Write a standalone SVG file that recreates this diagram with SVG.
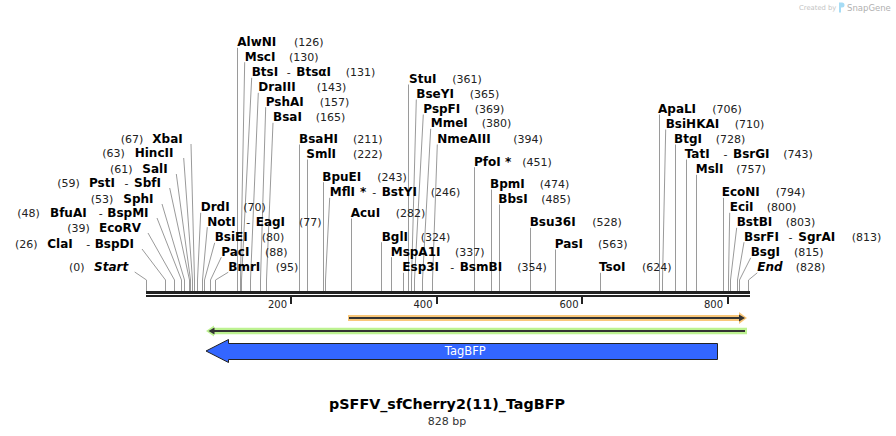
<svg xmlns="http://www.w3.org/2000/svg" width="896" height="436" viewBox="0 0 896 436">
<style>
.n{font-family:"DejaVu Sans",Verdana,sans-serif;font-size:12px;font-weight:bold;fill:#000}
.i{font-style:italic}
.p{font-family:"DejaVu Sans",Verdana,sans-serif;font-size:11px;fill:#222}
.t{font-family:"DejaVu Sans",Verdana,sans-serif;font-size:10px;fill:#222}
.c{fill:none;stroke:#9a9a9a;stroke-width:1}
.bb{fill:#222}
.fl{fill:none;stroke:#333;stroke-width:2}
</style>
<rect width="896" height="436" fill="#fff"/>
<g id="watermark">
<text x="799" y="10" style="font-family:'DejaVu Sans',sans-serif;font-size:6.8px;fill:#c4c4c4">Created by</text>
<path d="M839,2.5 h3 a2.5,2.5 0 0 1 0,5 h-1 v5 h-2 Z" fill="#a6dcf5"/>
<text x="847" y="10.5" style="font-family:'DejaVu Sans',sans-serif;font-size:8.5px;fill:#b0b0b0">SnapGene</text>
</g>
<g id="connectors">
<polyline class="c" points="134.7,272 146.5,280 146.5,291"/>
<polyline class="c" points="142,249 165.5,280 165.5,291"/>
<polyline class="c" points="148,233 174.5,280 174.5,291"/>
<polyline class="c" points="157,218 181.5,280 181.5,291"/>
<polyline class="c" points="162,204 184.5,280 184.5,291"/>
<polyline class="c" points="169.7,188 189.5,280 189.5,291"/>
<polyline class="c" points="176.3,174 190.5,280 190.5,291"/>
<polyline class="c" points="183.7,158 192.5,280 192.5,291"/>
<polyline class="c" points="191,144 194.5,280 194.5,291"/>
<polyline class="c" points="200.7,212.8 197.5,280 197.5,291"/>
<polyline class="c" points="207.3,227.2 202.5,280 202.5,291"/>
<polyline class="c" points="214.7,242.8 204.5,280 204.5,291"/>
<polyline class="c" points="221.3,257.2 210.5,280 210.5,291"/>
<polyline class="c" points="228.3,272.2 215.5,280 215.5,291"/>
<polyline class="c" points="237.5,47.8 237.5,291"/>
<polyline class="c" points="244.7,62.2 240.5,280 240.5,291"/>
<polyline class="c" points="251.7,77.8 241.5,280 241.5,291"/>
<polyline class="c" points="258.3,92.8 250.5,280 250.5,291"/>
<polyline class="c" points="265.7,107.2 260.5,280 260.5,291"/>
<polyline class="c" points="273,122.8 266.5,280 266.5,291"/>
<polyline class="c" points="299.5,144.5 299.5,291"/>
<polyline class="c" points="307.5,159.5 307.5,291"/>
<polyline class="c" points="323.5,182.2 323.5,291"/>
<polyline class="c" points="329.7,197.8 325.5,280 325.5,291"/>
<polyline class="c" points="351.5,218.5 351.5,291"/>
<polyline class="c" points="381.5,242.2 381.5,291"/>
<polyline class="c" points="391.5,257.2 391.5,291"/>
<polyline class="c" points="403.5,272.8 403.5,291"/>
<polyline class="c" points="408.5,84.5 408.5,291"/>
<polyline class="c" points="416.3,99.5 411.5,280 411.5,291"/>
<polyline class="c" points="423.3,114.5 414.5,280 414.5,291"/>
<polyline class="c" points="430.7,128.8 422.5,280 422.5,291"/>
<polyline class="c" points="437.3,144.5 432.5,280 432.5,291"/>
<polyline class="c" points="474.5,167.2 474.5,291"/>
<polyline class="c" points="491.5,189.5 491.5,291"/>
<polyline class="c" points="499.5,204.5 499.5,291"/>
<polyline class="c" points="530.5,227.8 530.5,291"/>
<polyline class="c" points="555.5,249.5 555.5,291"/>
<polyline class="c" points="600.5,272.8 600.5,291"/>
<polyline class="c" points="659.5,114.5 659.5,291"/>
<polyline class="c" points="665.7,129.5 662.5,280 662.5,291"/>
<polyline class="c" points="675.5,144.5 675.5,291"/>
<polyline class="c" points="686.5,159.5 686.5,291"/>
<polyline class="c" points="696.5,174.8 696.5,291"/>
<polyline class="c" points="723.5,197.8 723.5,291"/>
<polyline class="c" points="729.7,212.8 728.5,280 728.5,291"/>
<polyline class="c" points="736.7,227.8 730.5,280 730.5,291"/>
<polyline class="c" points="744,242.2 737.5,280 737.5,291"/>
<polyline class="c" points="750.7,257.8 739.5,280 739.5,291"/>
<polyline class="c" points="757.3,272.8 748.5,280 748.5,291"/>
</g>
<g id="backbone">
<rect class="bb" x="146" y="291" width="604" height="3"/>
<rect class="bb" x="146" y="295" width="604" height="2"/>
<rect class="bb" x="290" y="297" width="2" height="7"/>
<rect class="bb" x="436" y="297" width="2" height="7"/>
<rect class="bb" x="581" y="297" width="2" height="7"/>
<rect class="bb" x="727" y="297" width="2" height="7"/>
<text class="t" x="287" y="307.5" text-anchor="end">200</text>
<text class="t" x="432.5" y="307.5" text-anchor="end">400</text>
<text class="t" x="578.5" y="307.5" text-anchor="end">600</text>
<text class="t" x="723" y="307.5" text-anchor="end">800</text>
</g>
<g id="site-Start"><text class="p" x="69" y="271">(0)</text><text class="n i" x="94" y="271">Start</text></g>
<g id="site-ClaI"><text class="p" x="15" y="248">(26)</text><text class="n" x="47.3" y="248">ClaI</text><text class="p" x="86.2" y="248">-</text><text class="n" x="94.7" y="248">BspDI</text></g>
<g id="site-EcoRV"><text class="p" x="67.3" y="232">(39)</text><text class="n" x="99" y="232">EcoRV</text></g>
<g id="site-BfuAI"><text class="p" x="17.3" y="217">(48)</text><text class="n" x="50" y="217">BfuAI</text><text class="p" x="98.8" y="217">-</text><text class="n" x="107.3" y="217">BspMI</text></g>
<g id="site-SphI"><text class="p" x="90.7" y="203">(53)</text><text class="n" x="123.3" y="203">SphI</text></g>
<g id="site-PstI"><text class="p" x="57.3" y="187">(59)</text><text class="n" x="89" y="187">PstI</text><text class="p" x="124.5" y="187">-</text><text class="n" x="134" y="187">SbfI</text></g>
<g id="site-SalI"><text class="p" x="110" y="173">(61)</text><text class="n" x="142.3" y="173">SalI</text></g>
<g id="site-HincII"><text class="p" x="102.3" y="157">(63)</text><text class="n" x="134.7" y="157">HincII</text></g>
<g id="site-XbaI"><text class="p" x="120.7" y="143">(67)</text><text class="n" x="152.3" y="143">XbaI</text></g>
<g id="site-DrdI"><text class="n" x="200.7" y="211.3">DrdI</text><text class="p" x="243.3" y="211.3">(70)</text></g>
<g id="site-NotI"><text class="n" x="207.3" y="225.7">NotI</text><text class="p" x="246.2" y="225.7">-</text><text class="n" x="255.7" y="225.7">EagI</text><text class="p" x="299" y="225.7">(77)</text></g>
<g id="site-BsiEI"><text class="n" x="214.7" y="241.3">BsiEI</text><text class="p" x="261.7" y="241.3">(80)</text></g>
<g id="site-PacI"><text class="n" x="221.3" y="255.7">PacI</text><text class="p" x="265" y="255.7">(88)</text></g>
<g id="site-BmrI"><text class="n" x="228.3" y="270.7">BmrI</text><text class="p" x="275.7" y="270.7">(95)</text></g>
<g id="site-AlwNI"><text class="n" x="237.3" y="46.3">AlwNI</text><text class="p" x="294" y="46.3">(126)</text></g>
<g id="site-MscI"><text class="n" x="244.7" y="60.7">MscI</text><text class="p" x="289" y="60.7">(130)</text></g>
<g id="site-BtsI"><text class="n" x="251.7" y="76.3">BtsI</text><text class="p" x="286.8" y="76.3">-</text><text class="n" x="296.3" y="76.3">BtsαI</text><text class="p" x="345.7" y="76.3">(131)</text></g>
<g id="site-DraIII"><text class="n" x="258.3" y="91.3">DraIII</text><text class="p" x="316.7" y="91.3">(143)</text></g>
<g id="site-PshAI"><text class="n" x="265.7" y="105.7">PshAI</text><text class="p" x="319.7" y="105.7">(157)</text></g>
<g id="site-BsaI"><text class="n" x="273" y="121.3">BsaI</text><text class="p" x="315.7" y="121.3">(165)</text></g>
<g id="site-BsaHI"><text class="n" x="299" y="143">BsaHI</text><text class="p" x="353" y="143">(211)</text></g>
<g id="site-SmlI"><text class="n" x="306.3" y="158">SmlI</text><text class="p" x="353" y="158">(222)</text></g>
<g id="site-BpuEI"><text class="n" x="322.3" y="180.7">BpuEI</text><text class="p" x="377.3" y="180.7">(243)</text></g>
<g id="site-MflI"><text class="n" x="329.7" y="196.3">MflI</text><text class="n" x="360" y="196.3">*</text><text class="p" x="372.2" y="196.3">-</text><text class="n" x="381.7" y="196.3">BstYI</text><text class="p" x="430.7" y="196.3">(246)</text></g>
<g id="site-AcuI"><text class="n" x="350.7" y="217">AcuI</text><text class="p" x="395.7" y="217">(282)</text></g>
<g id="site-BglI"><text class="n" x="381.7" y="240.7">BglI</text><text class="p" x="420.7" y="240.7">(324)</text></g>
<g id="site-MspA1I"><text class="n" x="390.7" y="255.7">MspA1I</text><text class="p" x="455" y="255.7">(337)</text></g>
<g id="site-Esp3I"><text class="n" x="402.3" y="271.3">Esp3I</text><text class="p" x="450.2" y="271.3">-</text><text class="n" x="459.7" y="271.3">BsmBI</text><text class="p" x="517.3" y="271.3">(354)</text></g>
<g id="site-StuI"><text class="n" x="409" y="83">StuI</text><text class="p" x="452.3" y="83">(361)</text></g>
<g id="site-BseYI"><text class="n" x="416.3" y="98">BseYI</text><text class="p" x="469.7" y="98">(365)</text></g>
<g id="site-PspFI"><text class="n" x="423.3" y="113">PspFI</text><text class="p" x="474.7" y="113">(369)</text></g>
<g id="site-MmeI"><text class="n" x="430.7" y="127.3">MmeI</text><text class="p" x="481.7" y="127.3">(380)</text></g>
<g id="site-NmeAIII"><text class="n" x="437.3" y="143">NmeAIII</text><text class="p" x="513.3" y="143">(394)</text></g>
<g id="site-PfoI"><text class="n" x="474" y="165.7">PfoI</text><text class="n" x="505" y="165.7">*</text><text class="p" x="522.3" y="165.7">(451)</text></g>
<g id="site-BpmI"><text class="n" x="490" y="188">BpmI</text><text class="p" x="539.7" y="188">(474)</text></g>
<g id="site-BbsI"><text class="n" x="498.3" y="203">BbsI</text><text class="p" x="541.3" y="203">(485)</text></g>
<g id="site-Bsu36I"><text class="n" x="529.7" y="226.3">Bsu36I</text><text class="p" x="592.3" y="226.3">(528)</text></g>
<g id="site-PasI"><text class="n" x="554.7" y="248">PasI</text><text class="p" x="598" y="248">(563)</text></g>
<g id="site-TsoI"><text class="n" x="599" y="271.3">TsoI</text><text class="p" x="642" y="271.3">(624)</text></g>
<g id="site-ApaLI"><text class="n" x="658" y="113">ApaLI</text><text class="p" x="712.3" y="113">(706)</text></g>
<g id="site-BsiHKAI"><text class="n" x="665.7" y="128">BsiHKAI</text><text class="p" x="734.7" y="128">(710)</text></g>
<g id="site-BtgI"><text class="n" x="674" y="143">BtgI</text><text class="p" x="715.7" y="143">(728)</text></g>
<g id="site-TatI"><text class="n" x="684.7" y="158">TatI</text><text class="p" x="723.5" y="158">-</text><text class="n" x="733" y="158">BsrGI</text><text class="p" x="783.3" y="158">(743)</text></g>
<g id="site-MslI"><text class="n" x="695.7" y="173.3">MslI</text><text class="p" x="736.3" y="173.3">(757)</text></g>
<g id="site-EcoNI"><text class="n" x="721.7" y="196.3">EcoNI</text><text class="p" x="775.7" y="196.3">(794)</text></g>
<g id="site-EciI"><text class="n" x="729.7" y="211.3">EciI</text><text class="p" x="766.7" y="211.3">(800)</text></g>
<g id="site-BstBI"><text class="n" x="736.7" y="226.3">BstBI</text><text class="p" x="785.7" y="226.3">(803)</text></g>
<g id="site-BsrFI"><text class="n" x="744" y="240.7">BsrFI</text><text class="p" x="788.5" y="240.7">-</text><text class="n" x="798.3" y="240.7">SgrAI</text><text class="p" x="851.7" y="240.7">(813)</text></g>
<g id="site-BsgI"><text class="n" x="750.7" y="256.3">BsgI</text><text class="p" x="794" y="256.3">(815)</text></g>
<g id="site-End"><text class="n i" x="757.3" y="271.3">End</text><text class="p" x="795.7" y="271.3">(828)</text></g>
<g id="feature-orange">
<path d="M348,315 H739 V312 L747,318 L739,324 V321 H348 Z" fill="#f9c77a"/>
<path class="fl" d="M349,318 H740"/>
<path d="M739,314.5 L745,318 L739,321.5 Z" fill="#333"/>
</g>
<g id="feature-green">
<path d="M206,331 L214,325.5 V327.8 H747 V334.2 H214 V336.5 Z" fill="#bdf291"/>
<path class="fl" d="M213,331 H745"/>
<path d="M208.5,331 L214.5,327.5 L214.5,334.5 Z" fill="#333"/>
</g>
<g id="feature-TagBFP">
<path d="M206,351 L228.5,339.5 V343.5 H717.5 V359.5 H228.5 V362.5 Z" fill="#3366ff" stroke="#222" stroke-width="1"/>
<text x="465.3" y="355.2" text-anchor="middle" style="font-family:'DejaVu Sans',Verdana,sans-serif;font-size:11.5px;fill:#fff">TagBFP</text>
</g>
<g id="title">
<text x="447" y="409" text-anchor="middle" style="font-family:'DejaVu Sans',Verdana,sans-serif;font-size:14.3px;font-weight:bold;fill:#000">pSFFV_sfCherry2(11)_TagBFP</text>
<text x="447" y="424.5" text-anchor="middle" style="font-family:'DejaVu Sans',Verdana,sans-serif;font-size:11px;fill:#333">828 bp</text>
</g>
</svg>
